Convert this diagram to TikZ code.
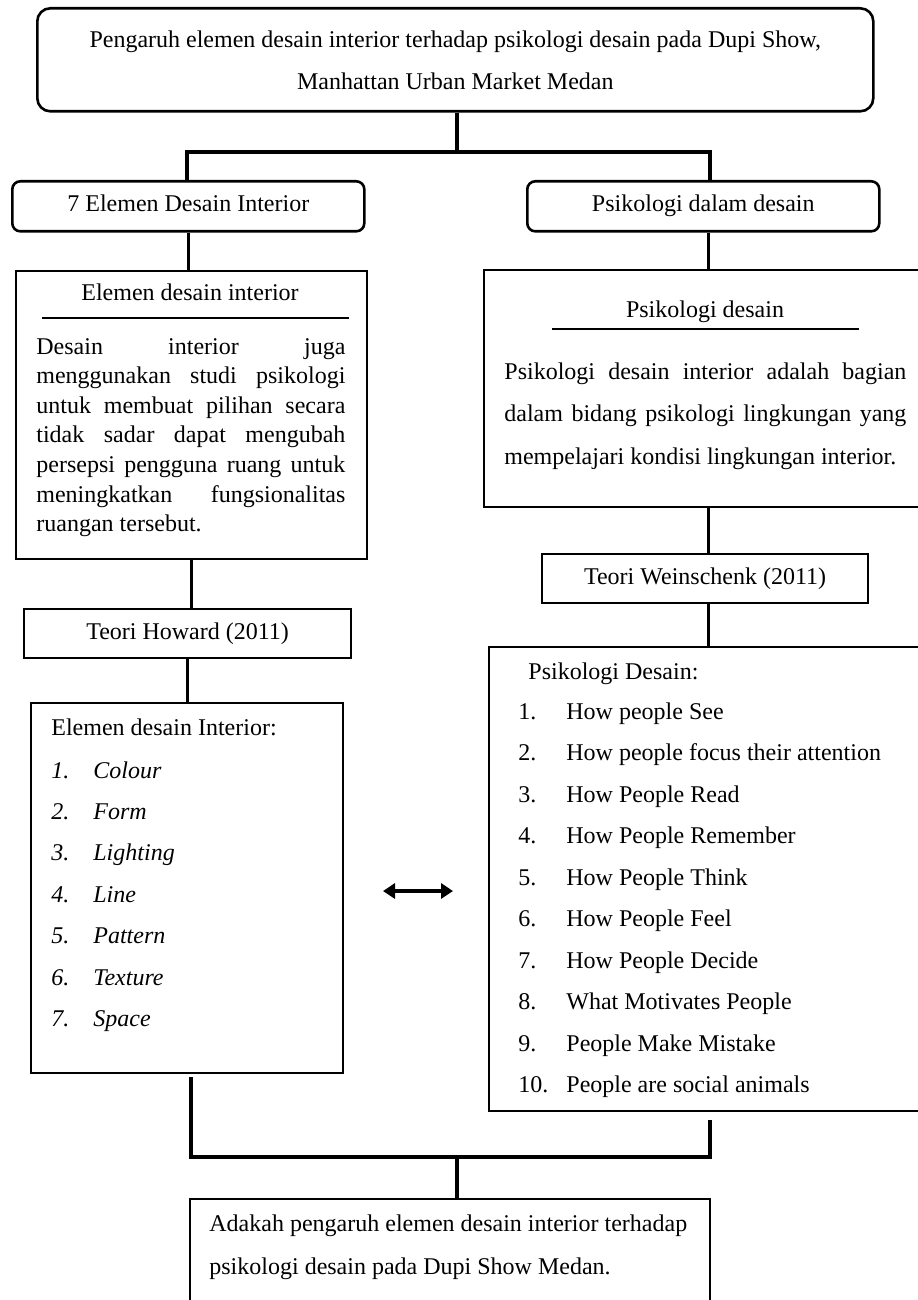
\documentclass[tikz,border=0pt]{standalone}
\usepackage{fontspec}
\setmainfont{Liberation Serif}
\usetikzlibrary{arrows.meta}
\hbadness=10000
\hyphenpenalty=10000
\newcommand\hurufdasar{\fontsize{12}{14}\selectfont}

\begin{document}
\begin{tikzpicture}[x=0.5pt, y=-0.5pt, font=\hurufdasar,
        kotak/.style={draw, line width=1.1pt, anchor=north west, inner sep=0pt},
        kotakbulat/.style={kotak, rounded corners=4pt, line width=1.3pt},
        satubaris/.style={text height=8.2pt, text depth=2.6pt},
        garis/.style={line width=1.6pt},
        garisjudul/.style={line width=1pt},
        teks/.style={inner sep=0pt, anchor=base west}
    ]
    \useasboundingbox (0,0) rectangle (917,1300);

    \node[kotakbulat, rounded corners=6.5pt, minimum width=418pt, minimum height=51.5pt, align=center, font=\fontsize{12}{21}\selectfont] (judul) at (36,7) {Pengaruh elemen desain interior terhadap psikologi desain pada Dupi Show,\\Manhattan Urban Market Medan};
    \node[kotakbulat, satubaris, minimum width=176pt, minimum height=25pt] (elemen7) at (11,180) {7 Elemen Desain Interior};
    \node[kotakbulat, satubaris, minimum width=176pt, minimum height=25pt] (psidalam) at (526,180) {Psikologi dalam desain};

    % kolom kiri
    \node[kotak, minimum width=175.5pt, minimum height=144pt] (elemenbox) at (15,270) {};
    \node[teks, anchor=base] (elemenjudul) at (190,300) {Elemen desain interior};
    \draw[garisjudul] (42,318) -- (349,318);
    \node[teks, text width=154.5pt, align=justify, font=\fontsize{12}{14.8}\selectfont] (elemenisi) at (36,354) {Desain interior juga\linebreak menggunakan studi psikologi\linebreak untuk membuat pilihan secara\linebreak tidak sadar dapat mengubah\linebreak persepsi pengguna ruang untuk\linebreak meningkatkan fungsionalitas\linebreak ruangan tersebut.};
    \node[kotak, satubaris, minimum width=163.5pt, minimum height=24.5pt] (howard) at (23,608) {Teori Howard (2011)};
    \node[kotak, minimum width=156pt, minimum height=185pt] (elemenlist) at (30,702) {};
    \node[teks] (elemenlistjudul) at (51,735) {Elemen desain Interior:};
    \foreach \nomor/\nama [count=\i from 0] in {1/Colour, 2/Form, 3/Lighting, 4/Line, 5/Pattern, 6/Texture, 7/Space}
    {
        \node[teks, font=\hurufdasar\itshape] (noitem\nomor) at (51,{778+41.4*\i}) {\nomor.};
        \node[teks, font=\hurufdasar\itshape] (item\nomor) at (93,{778+41.4*\i}) {\nama};
    }

    % kolom kanan
    \node[kotak, minimum width=224pt, minimum height=118.5pt] (psibox) at (483,269) {};
    \node[teks, anchor=base] (psijudul) at (705,317) {Psikologi desain};
    \draw[garisjudul] (552,329) -- (859,329);
    \node[teks, text width=201pt, align=justify, font=\fontsize{12}{21.25}\selectfont] (psiisi) at (504,379) {Psikologi desain interior adalah bagian\linebreak dalam bidang psikologi lingkungan yang\linebreak mempelajari kondisi lingkungan interior.};
    \node[kotak, satubaris, minimum width=163pt, minimum height=24.5pt] (weinschenk) at (541,553) {Teori Weinschenk (2011)};
    \node[kotak, minimum width=219pt, minimum height=232pt] (psilist) at (488,646) {};
    \node[teks] (psilistjudul) at (528,679) {Psikologi Desain:};
    \foreach \nomor/\nama [count=\i from 0] in {1/How people See, 2/How people focus their attention, 3/How People Read, 4/How People Remember, 5/How People Think, 6/How People Feel, 7/How People Decide, 8/What Motivates People, 9/People Make Mistake, 10/People are social animals}
    {
        \node[teks] (nopsi\nomor) at (518,{719+41.5*\i}) {\nomor.};
        \node[teks] (psi\nomor) at (566,{719+41.5*\i}) {\nama};
    }

    \node[kotak, minimum width=260pt, minimum height=70pt] (kesimpulan) at (189,1198) {};
    \node[teks] (kesimpulan1) at (209,1231) {Adakah pengaruh elemen desain interior terhadap};
    \node[teks] (kesimpulan2) at (209,1274) {psikologi desain pada Dupi Show Medan.};

    % garis penghubung
    \coordinate (jtengah) at (457,152);
    \coordinate (jkiri) at (187,152);
    \coordinate (jkanan) at (710,152);
    \draw[garis] (judul.south -| jtengah) -- (jtengah);
    \draw[garis] (jkiri |- elemen7.north) -- (jkiri) -- (jkanan) -- (jkanan |- psidalam.north);
    \draw[garis] (elemen7.south) -- (elemen7.south |- elemenbox.north);
    \draw[garis] (elemenbox.south) -- (elemenbox.south |- howard.north);
    \draw[garis] (howard.south) -- (howard.south |- elemenlist.north);
    \draw[garis] (psidalam.south -| psibox.north) -- (psibox.north);
    \draw[garis] (psibox.south) -- (psibox.south |- weinschenk.north);
    \draw[garis] (weinschenk.south -| psilist.north) -- (psilist.north);

    \coordinate (panahkiri) at (383,891);
    \coordinate (panahkanan) at (453,891);
    \draw[garis, {Triangle[length=6pt,width=7.5pt]}-{Triangle[length=6pt,width=7.5pt]}] (panahkiri) -- (panahkanan);

    \coordinate (bkiri) at (191,1077);
    \coordinate (bkanan) at (710,1120);
    \coordinate (btengah) at (457,1157);
    \draw[garis] (bkiri) |- (btengah) -| (bkanan);
    \draw[garis] (btengah) -- (btengah |- kesimpulan.north);
\end{tikzpicture}
\end{document}
